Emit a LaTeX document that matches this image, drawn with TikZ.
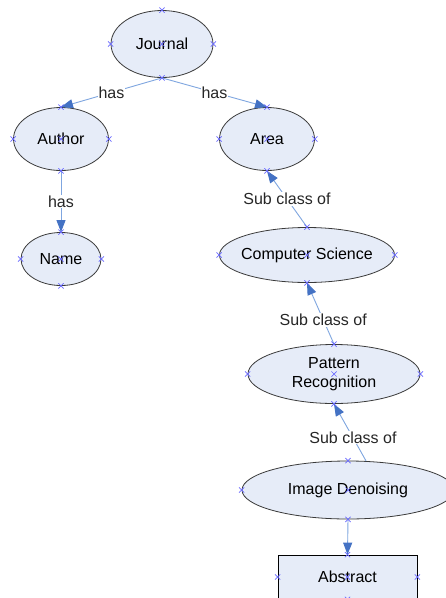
\documentclass[tikz,border=0pt]{standalone}
\usepackage{fontspec}
\setmainfont{Liberation Sans}
\usetikzlibrary{arrows.meta,shapes.geometric,shapes.misc}
\definecolor{nodefill}{HTML}{E6ECF8}
\definecolor{nodeline}{HTML}{3A3A3A}
\definecolor{linkline}{HTML}{7FA6E0}
\definecolor{tipblue}{HTML}{4472C4}
\definecolor{markblue}{HTML}{6A6AFF}
\begin{document}
\begin{tikzpicture}[x=1pt,y=-1pt,
  font=\fontsize{16}{19}\selectfont,
  ell/.style={ellipse,draw=nodeline,fill=nodefill,line width=0.8pt,inner sep=0pt,align=center},
  boxnode/.style={rectangle,draw=black,fill=nodefill,line width=0.8pt,inner sep=0pt},
  link/.style={draw=linkline,line width=0.9pt,-{Triangle[length=12pt,width=9pt,color=tipblue]}},
  lbl/.style={fill=white,inner sep=1pt,text=black!85},
  mk/.style={cross out,draw=markblue,line width=0.7pt,minimum size=4.5pt,inner sep=0pt}]
\clip (0,0) rectangle (446,598);
\fill[white] (0,0) rectangle (446,598);

\node[ell,minimum width=102pt,minimum height=67pt] (journal) at (162,44) {Journal};
\node[ell,minimum width=95pt,minimum height=63pt] (author) at (61,139) {Author};
\node[ell,minimum width=95pt,minimum height=63pt] (area) at (267,139) {Area};
\node[ell,minimum width=80pt,minimum height=53pt] (name) at (61,259) {Name};
\node[ell,inner xsep=-8pt,minimum width=175pt,minimum height=55pt] (cs) at (307,255) {Computer Science};
\node[ell,minimum width=172pt,minimum height=59pt] (pr) at (334,374) {Pattern\\Recognition};
\node[ell,minimum width=212pt,minimum height=58pt] (id) at (348,490) {Image Denoising};
\node[boxnode,minimum width=139pt,minimum height=44pt] (abs) at (347.5,577) {Abstract};

\draw[link] (journal.south) -- node[lbl] {has} (author.north);
\draw[link] (journal.south) -- node[lbl] {has} (area.north);
\draw[link] (author.south) -- node[lbl] {has} (name.north);
\draw[link] (cs.north) -- node[lbl] {Sub class of} (area.south);
\draw[link] (pr.north) -- node[lbl,pos=0.4] {Sub class of} (cs.south);
\draw[link] (id.58) -- node[lbl,pos=0.41] {Sub class of} (pr.south);
\draw[link] (id.south) -- (abs.north);

\foreach \n in {journal,author,area,name,cs,pr,abs}{
  \foreach \a in {north,south,east,west,center}{
    \node[mk] at (\n.\a) {};
  }
}
\foreach \a in {north,south,west,center}{
  \node[mk] at (id.\a) {};
}
\end{tikzpicture}
\end{document}
